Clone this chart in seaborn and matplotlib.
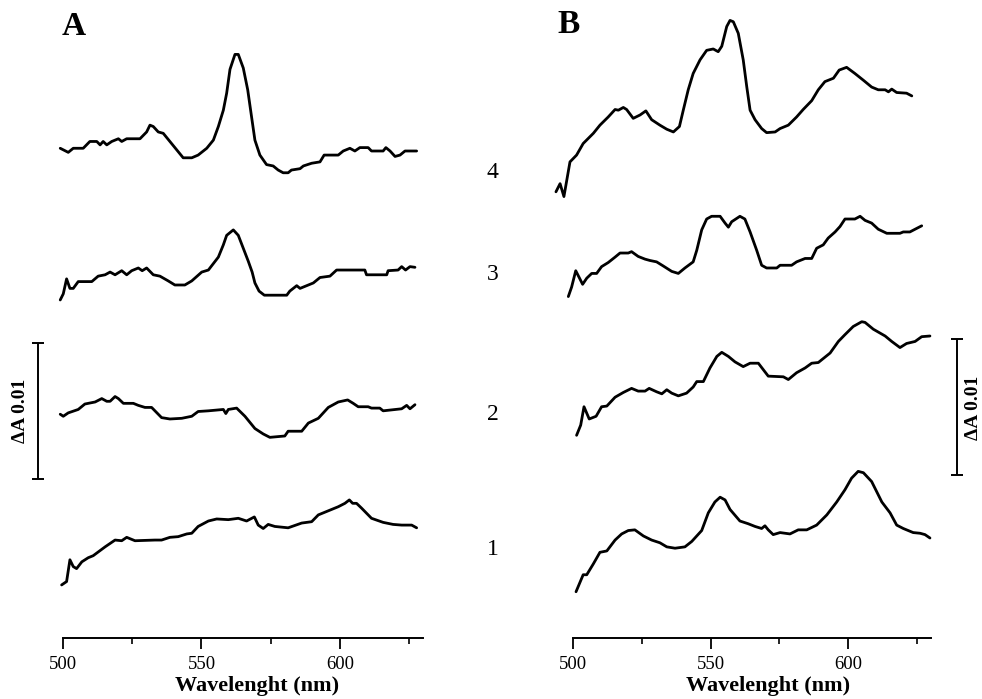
import matplotlib
matplotlib.use("Agg")
import matplotlib.pyplot as plt
import numpy as np
import pandas as pd
import seaborn as sns

# ---------------- data (wavelength in nm, absorbance change in units of 1e-3, traces offset) -------------
trace_labels = ["1", "2", "3", "4"]
label_levels = [6.5, 16.4, 26.7, 34.2]
wl_ticks = [500, 550, 600]
wl_minor = [525, 575, 625]
scale_bar_mA = 10.0
scale_bar_text = "ΔA 0.01"
x_label = "Wavelenght (nm)"

A4_wl = [499.0, 501.9, 503.7, 507.3, 509.7, 512.2, 513.4, 514.5, 515.8, 517.6, 520.0, 521.2, 523.0, 527.8,
         530.2, 531.4, 532.6, 534.4, 536.2, 538.6, 541.0, 543.4, 546.5, 548.8, 551.9, 554.3, 556.1, 557.9,
         559.1, 560.3, 562.1, 563.3, 565.1, 566.7, 568.1, 569.3, 571.1, 573.5, 575.9, 577.7, 579.5, 581.3,
         582.5, 585.6, 586.8, 589.8, 592.8, 594.3, 599.4, 601.2, 603.6, 605.4, 607.2, 610.2, 611.4, 615.6,
         616.6, 618.1, 619.9, 621.7, 623.5, 627.7]
A4_dA = [36.0, 35.7, 36.0, 36.0, 36.5, 36.5, 36.25, 36.5, 36.25, 36.5, 36.7, 36.5, 36.7, 36.7, 37.2, 37.7,
         37.6, 37.2, 37.1, 36.5, 35.9, 35.3, 35.3, 35.5, 36.0, 36.6, 37.6, 38.8, 40.05, 41.8, 42.9, 42.9,
         41.9, 40.3, 38.3, 36.6, 35.5, 34.8, 34.7, 34.4, 34.2, 34.2, 34.4, 34.5, 34.7, 34.9, 35.0, 35.5, 35.5,
         35.8, 36.0, 35.8, 36.05, 36.05, 35.8, 35.8, 36.05, 35.8, 35.4, 35.5, 35.8, 35.8]

A3_wl = [499.0, 500.1, 501.3, 502.5, 503.7, 505.5, 510.4, 512.7, 515.2, 517.0, 518.8, 521.2, 523.0, 524.8,
         527.2, 528.6, 530.2, 532.6, 535.0, 538.0, 540.4, 544.0, 546.5, 550.1, 552.5, 556.1, 557.9, 559.1,
         561.5, 563.3, 565.1, 566.9, 568.3, 569.3, 570.8, 572.7, 580.8, 581.9, 584.4, 585.6, 588.6, 590.4,
         592.8, 596.4, 598.8, 609.0, 609.6, 616.9, 617.4, 621.0, 622.3, 623.7, 625.3, 627.1]
A3_dA = [24.85, 25.3, 26.4, 25.7, 25.7, 26.2, 26.2, 26.6, 26.7, 26.9, 26.7, 27.0, 26.7, 27.0, 27.2, 27.0,
         27.2, 26.7, 26.6, 26.25, 25.95, 25.95, 26.25, 26.9, 27.05, 28.0, 28.9, 29.6, 30.0, 29.6, 28.65, 27.7,
         26.9, 26.1, 25.5, 25.2, 25.2, 25.5, 25.9, 25.7, 25.95, 26.1, 26.5, 26.6, 27.05, 27.05, 26.7, 26.7,
         27.0, 27.05, 27.3, 27.05, 27.3, 27.25]

A2_wl = [499.0, 500.1, 501.9, 505.5, 507.9, 511.6, 514.0, 515.8, 517.0, 518.8, 520.0, 521.8, 525.4, 527.2,
         529.6, 532.0, 535.6, 538.6, 542.9, 546.5, 548.8, 552.5, 557.9, 558.8, 559.7, 562.7, 565.7, 569.3,
         572.3, 574.7, 580.1, 581.3, 586.2, 588.6, 592.2, 595.8, 599.4, 602.8, 604.8, 606.6, 610.2, 611.4,
         614.4, 615.6, 622.3, 624.1, 625.3, 627.1]
A2_dA = [16.45, 16.3, 16.55, 16.8, 17.2, 17.35, 17.6, 17.4, 17.4, 17.75, 17.6, 17.25, 17.25, 17.1, 16.95,
         16.95, 16.2, 16.1, 16.15, 16.3, 16.65, 16.7, 16.8, 16.5, 16.8, 16.9, 16.3, 15.4, 15.0, 14.75, 14.85,
         15.2, 15.2, 15.8, 16.15, 16.95, 17.35, 17.5, 17.25, 17.0, 17.0, 16.9, 16.9, 16.7, 16.85, 17.1,
         16.85, 17.15]

A1_wl = [499.5, 501.3, 502.5, 503.7, 504.9, 506.8, 509.1, 510.9, 515.2, 518.8, 521.2, 523.0, 526.0, 533.2,
         535.6, 538.6, 541.6, 544.7, 546.5, 548.8, 552.5, 555.5, 559.7, 563.3, 566.3, 569.1, 570.5, 572.3,
         574.1, 576.5, 581.3, 586.2, 589.8, 592.2, 595.8, 599.4, 601.8, 603.4, 604.6, 606.0, 607.8, 611.4,
         615.6, 619.2, 622.3, 624.1, 625.9, 627.7]
A1_dA = [3.9, 4.15, 5.75, 5.25, 5.1, 5.6, 5.9, 6.05, 6.7, 7.2, 7.15, 7.4, 7.15, 7.2, 7.2, 7.4, 7.45, 7.65,
         7.7, 8.2, 8.6, 8.75, 8.7, 8.8, 8.6, 8.9, 8.3, 8.05, 8.35, 8.2, 8.1, 8.45, 8.55, 9.05, 9.35, 9.65,
         9.9, 10.15, 9.9, 9.9, 9.55, 8.8, 8.5, 8.35, 8.3, 8.3, 8.3, 8.1]

B4_wl = [493.8, 495.3, 496.7, 498.9, 501.3, 503.7, 507.4, 509.8, 512.8, 515.3, 516.5, 518.3, 519.5, 521.9,
         524.4, 526.5, 528.6, 531.6, 534.1, 536.5, 538.7, 540.1, 541.9, 543.7, 546.2, 548.6, 551.0, 552.8,
         554.1, 555.9, 557.1, 558.3, 560.1, 561.9, 563.2, 564.4, 566.2, 568.6, 570.4, 573.5, 575.3, 578.3,
         581.3, 583.7, 586.8, 589.2, 591.6, 594.7, 596.8, 599.5, 602.5, 605.6, 608.6, 611.0, 613.5, 614.7,
         615.9, 617.7, 621.3, 623.2]
B4_dA = [32.8, 33.4, 32.45, 35.0, 35.5, 36.35, 37.1, 37.7, 38.3, 38.85, 38.8, 39.0, 38.85, 38.2, 38.45,
         38.75, 38.1, 37.7, 37.4, 37.2, 37.6, 38.8, 40.3, 41.5, 42.5, 43.2, 43.3, 43.1, 43.5, 44.95, 45.4,
         45.3, 44.45, 42.5, 40.5, 38.8, 38.1, 37.45, 37.15, 37.2, 37.45, 37.7, 38.3, 38.85, 39.5, 40.3, 40.9,
         41.15, 41.75, 41.95, 41.5, 41.0, 40.5, 40.3, 40.3, 40.15, 40.35, 40.1, 40.05, 39.85]

B3_wl = [498.3, 499.5, 501.0, 503.5, 505.0, 506.8, 508.6, 510.4, 512.8, 515.3, 517.1, 520.1, 521.3, 523.7,
         526.2, 528.0, 530.4, 532.8, 535.9, 538.3, 540.7, 543.7, 545.0, 546.8, 548.6, 550.4, 553.5, 555.3,
         556.5, 557.7, 560.7, 562.5, 564.4, 566.8, 568.6, 570.4, 574.1, 575.3, 579.5, 581.3, 584.4, 586.8,
         588.6, 591.0, 592.8, 595.3, 597.1, 598.9, 602.5, 604.4, 606.2, 608.6, 611.0, 614.1, 618.9, 620.1,
         622.5, 624.4, 626.8]
B3_dA = [25.1, 25.8, 27.0, 26.0, 26.45, 26.8, 26.8, 27.3, 27.6, 28.0, 28.3, 28.3, 28.4, 28.05, 27.85, 27.75,
         27.65, 27.35, 26.95, 26.8, 27.2, 27.65, 28.5, 30.0, 30.8, 31.0, 31.0, 30.5, 30.2, 30.6, 31.0, 30.8,
         29.85, 28.5, 27.4, 27.2, 27.2, 27.4, 27.4, 27.65, 27.9, 27.9, 28.65, 28.9, 29.4, 29.85, 30.25, 30.8,
         30.8, 31.0, 30.7, 30.5, 30.05, 29.75, 29.75, 29.85, 29.85, 30.05, 30.3]

B2_wl = [501.3, 502.8, 504.0, 505.9, 508.4, 510.4, 512.3, 515.3, 518.3, 521.3, 523.7, 526.2, 527.7, 530.4,
         532.3, 534.1, 535.9, 538.3, 541.3, 543.7, 545.0, 547.4, 549.8, 552.3, 554.1, 556.5, 558.9, 561.9,
         564.4, 567.4, 571.0, 576.5, 578.3, 581.3, 584.4, 586.8, 589.2, 593.5, 596.5, 598.9, 601.9, 605.0,
         606.2, 609.2, 613.5, 615.9, 618.9, 621.3, 624.4, 626.8, 629.8]
B2_dA = [14.9, 15.65, 17.0, 16.1, 16.3, 17.0, 17.05, 17.7, 18.05, 18.35, 18.15, 18.15, 18.35, 18.1, 17.95,
         18.25, 18.0, 17.8, 18.0, 18.45, 18.85, 18.85, 19.85, 20.7, 21.0, 20.7, 20.3, 19.95, 20.2, 20.2, 19.25,
         19.2, 19.0, 19.5, 19.85, 20.2, 20.25, 20.95, 21.8, 22.3, 22.9, 23.25, 23.2, 22.7, 22.2, 21.8, 21.35,
         21.65, 21.8, 22.15, 22.2]

B1_wl = [501.1, 503.7, 505.0, 507.4, 509.8, 512.3, 515.3, 517.7, 520.1, 522.5, 525.6, 528.6, 531.6, 534.1,
         537.1, 540.7, 543.2, 546.8, 549.2, 551.6, 553.5, 555.3, 557.1, 560.7, 563.7, 566.2, 568.6, 569.8,
         571.0, 572.8, 575.3, 578.9, 581.9, 585.0, 588.6, 592.3, 595.9, 598.9, 601.3, 603.7, 605.6, 608.6,
         612.3, 615.3, 617.7, 620.1, 623.7, 626.2, 628.0, 629.8]
B1_dA = [3.4, 4.65, 4.65, 5.45, 6.3, 6.4, 7.2, 7.65, 7.9, 7.95, 7.5, 7.2, 7.0, 6.7, 6.6, 6.7, 7.1, 7.9, 9.2,
         10.0, 10.35, 10.15, 9.45, 8.6, 8.4, 8.2, 8.05, 8.25, 7.95, 7.6, 7.75, 7.65, 7.95, 7.95, 8.3, 9.05,
         10.0, 10.9, 11.75, 12.25, 12.15, 11.5, 10.0, 9.2, 8.3, 8.05, 7.75, 7.7, 7.6, 7.35]

# ---------------- build long table ----------------
series = {
    ("A", "1"): (A1_wl, A1_dA), ("A", "2"): (A2_wl, A2_dA),
    ("A", "3"): (A3_wl, A3_dA), ("A", "4"): (A4_wl, A4_dA),
    ("B", "1"): (B1_wl, B1_dA), ("B", "2"): (B2_wl, B2_dA),
    ("B", "3"): (B3_wl, B3_dA), ("B", "4"): (B4_wl, B4_dA),
}
frames = []
for (panel, tr), (wl, da) in series.items():
    frames.append(pd.DataFrame({"panel": panel, "trace": tr, "wavelength": wl, "dA": da}))
df = pd.concat(frames, ignore_index=True)

# ---------------- style ----------------
sns.set_style("white")
plt.rcParams["font.family"] = ["Liberation Serif", "DejaVu Serif"]
plt.rcParams["text.color"] = "black"
plt.rcParams["axes.labelcolor"] = "black"
plt.rcParams["xtick.color"] = "black"

W, H = 982, 699
fig = plt.figure(figsize=(W / 100, H / 100), dpi=100)
axA = fig.add_axes([63 / W, 61 / H, 360 / W, 638 / H])
axB = fig.add_axes([573 / W, 61 / H, 357.5 / W, 638 / H])

for ax, panel in ((axA, "A"), (axB, "B")):
    sub = df[df["panel"] == panel]
    sns.lineplot(data=sub, x="wavelength", y="dA", units="trace", estimator=None, sort=False,
                 color="black", linewidth=2.0, ax=ax, clip_on=False, legend=False)
    ax.set_xlim(500, 630)
    ax.set_ylim(0, 46.9)
    ax.patch.set_visible(False)
    for s in ("top", "right", "left"):
        ax.spines[s].set_visible(False)
    ax.spines["bottom"].set_linewidth(1.4)
    ax.spines["bottom"].set_color("black")
    ax.set_yticks([])
    ax.set_ylabel("")
    ax.set_xticks(wl_ticks)
    ax.set_xticklabels([str(t) for t in wl_ticks])
    ax.set_xticks(wl_minor, minor=True)
    ax.tick_params(axis="x", which="major", direction="out", length=8, width=1.3,
                   pad=5, labelsize=13.5, colors="black", bottom=True)
    ax.tick_params(axis="x", which="minor", direction="out", length=4, width=1.2,
                   colors="black", bottom=True)
    ax.set_xlabel(x_label, fontsize=16, fontweight="bold", color="black", va="top")

axA.xaxis.set_label_coords(0.539, -0.060)
axB.xaxis.set_label_coords(0.545, -0.060)

# panel letters
fig.text(62 / W, 1 - 35 / H, "A", fontsize=24, fontweight="bold", ha="left", va="baseline", color="black")
fig.text(557 / W, 1 - 33 / H, "B", fontsize=24, fontweight="bold", ha="left", va="baseline", color="black")

# trace numbers between panels
for lab, lev in zip(trace_labels, label_levels):
    axA.text(655.2, lev, lab, fontsize=17, ha="center", va="center", clip_on=False, color="black")

# scale bars
def scale_bar(ax, x, yc, text_x):
    ax.errorbar([x], [yc], yerr=[scale_bar_mA / 2], fmt="none", ecolor="black",
                elinewidth=1.4, capsize=4, capthick=1.4, clip_on=False)
    ax.text(text_x, yc, scale_bar_text, rotation=90, fontsize=14, fontweight="bold",
            ha="center", va="center", clip_on=False, color="black")

scale_bar(axA, 491.0, 16.7, 484.5)
scale_bar(axB, 639.6, 16.95, 645.6)

fig.savefig("out.png", dpi=100)
